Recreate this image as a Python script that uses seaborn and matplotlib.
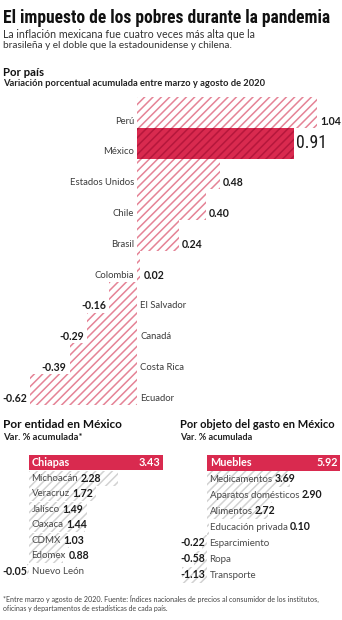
import matplotlib
matplotlib.use("Agg")
import matplotlib.pyplot as plt
import seaborn as sns
import pandas as pd

# Variación porcentual acumulada, marzo-agosto 2020
paises = ["Perú", "México", "Estados Unidos", "Chile", "Brasil", "Colombia",
          "El Salvador", "Canadá", "Costa Rica", "Ecuador"]
var_pais = [1.04, 0.91, 0.48, 0.40, 0.24, 0.02, -0.16, -0.29, -0.39, -0.62]

entidades = ["Chiapas", "Michoacán", "Veracruz", "Jalisco", "Oaxaca", "CDMX",
             "Edomex", "Nuevo León"]
var_entidad = [3.43, 2.28, 1.72, 1.49, 1.44, 1.03, 0.88, -0.05]

rubros = ["Muebles", "Medicamentos", "Aparatos domésticos", "Alimentos",
          "Educación privada", "Esparcimiento", "Ropa", "Transporte"]
var_rubro = [5.92, 3.69, 2.90, 2.72, 0.10, -0.22, -0.58, -1.13]

sns.set_theme(style="white")
plt.rcParams["font.family"] = ["Lato", "DejaVu Sans"]
plt.rcParams["hatch.linewidth"] = 1.1

W, H = 342, 620
fig = plt.figure(figsize=(W / 100, H / 100), dpi=100, facecolor="white")

ROJO = "#d92a4f"
ROJO_OSCURO = "#b5173c"
ROSA = "#e58396"
GRIS_HATCH = "#d2d2d2"
TXT = "#3c3c3c"
NEGRO = "#1c1c1c"
NARROW = ["Roboto Condensed", "Liberation Sans Narrow", "DejaVu Sans"]


def ax_px(x0, y0, x1, y1):
    """Axes placed by pixel box (top-left origin)."""
    a = fig.add_axes([x0 / W, 1 - y1 / H, (x1 - x0) / W, (y1 - y0) / H])
    a.set_facecolor("none")
    return a


def fig_text(x, y, s, **kw):
    kw.setdefault("va", "center")
    kw.setdefault("ha", "left")
    return fig.text(x / W, 1 - y / H, s, **kw)


PT = 0.72  # points per pixel at 100 dpi
fits = []  # (text, target width in px)

# ---------------- Por país ----------------
ax = ax_px(0, 97, W, 405)
df_pais = pd.DataFrame({"pais": paises, "var": var_pais})
sns.barplot(data=df_pais, x="var", y="pais", orient="h", width=1.0,
            color="white", ax=ax)
for i, bar in enumerate(ax.patches):
    bar.set_hatch("////")
    bar.set_linewidth(0)
    if paises[i] == "México":
        bar.set_facecolor(ROJO)
        bar.set_edgecolor(ROJO_OSCURO)
    else:
        bar.set_facecolor("white")
        bar.set_edgecolor(ROSA)
ax.set_xlim(-137 / 173, (W - 137) / 173)
ax.set_ylim(len(paises) - 0.5, -0.5)
ax.axis("off")

for i, (p, v) in enumerate(zip(paises, var_pais)):
    yl = i + 0.28
    if p == "México":
        big = ax.annotate(f"{v:.2f}", xy=(v, i), xytext=(2 * PT, 0),
                          textcoords="offset points", ha="left", va="center",
                          fontsize=16, family=NARROW, fontstretch="condensed",
                          color=NEGRO)
        fits.append((big, 31))
        ax.annotate(p, xy=(0, yl), xytext=(-3 * PT, 0),
                    textcoords="offset points", ha="right", va="center",
                    fontsize=6.8, color=TXT)
    elif v >= 0:
        ax.annotate(p, xy=(0, yl), xytext=(-3 * PT, 0),
                    textcoords="offset points", ha="right", va="center",
                    fontsize=6.8, color=TXT)
        ax.annotate(f"{v:.2f}", xy=(v, yl), xytext=(3 * PT, 0),
                    textcoords="offset points", ha="left", va="center",
                    fontsize=7.6, fontweight="bold", color=NEGRO)
    else:
        ax.annotate(p, xy=(0, yl), xytext=(3 * PT, 0),
                    textcoords="offset points", ha="left", va="center",
                    fontsize=6.8, color=TXT)
        ax.annotate(f"{v:.2f}", xy=(v, yl), xytext=(-3 * PT, 0),
                    textcoords="offset points", ha="right", va="center",
                    fontsize=7.6, fontweight="bold", color=NEGRO)


# ---------------- paneles inferiores ----------------
def panel(box, zero_px, px_per_unit, cats, vals):
    x0, y0, x1, y1 = box
    a = ax_px(*box)
    d = pd.DataFrame({"cat": cats, "var": vals})
    sns.barplot(data=d, x="var", y="cat", orient="h", width=0.97,
                color="white", ax=a)
    for i, bar in enumerate(a.patches):
        bar.set_linewidth(0)
        if i == 0:
            bar.set_facecolor(ROJO)
            bar.set_edgecolor(ROJO)
        else:
            bar.set_facecolor("white")
            bar.set_edgecolor(GRIS_HATCH)
            bar.set_hatch("////")
    a.set_xlim((x0 - zero_px) / px_per_unit, (x1 - zero_px) / px_per_unit)
    a.set_ylim(len(cats) - 0.5, -0.5)
    a.axis("off")
    for i, (c, v) in enumerate(zip(cats, vals)):
        if i == 0:
            a.annotate(c, xy=(0, i), xytext=(3 * PT, 0),
                       textcoords="offset points", ha="left", va="center",
                       fontsize=7.8, color="white", fontweight="bold")
            a.annotate(f"{v:.2f}", xy=(v, i), xytext=(-2 * PT, 0),
                       textcoords="offset points", ha="right", va="center",
                       fontsize=7.8, color="white", fontweight="bold")
            continue
        name = a.annotate(c, xy=(0, i), xytext=(2.5 * PT, 0),
                          textcoords="offset points", ha="left", va="center",
                          fontsize=7.0, color="#4a4a4a")
        if v >= 0:
            a.annotate(f"{v:.2f}", xy=(1, i), xycoords=(name, "data"),
                       xytext=(2.5 * PT, 0), textcoords="offset points",
                       ha="left", va="center", fontsize=7.6,
                       fontweight="bold", color=NEGRO)
        else:
            a.annotate(f"{v:.2f}", xy=(0, i), xytext=(-2 * PT, 0),
                       textcoords="offset points", ha="right", va="center",
                       fontsize=7.6, fontweight="bold", color=NEGRO)
    return a


panel((0, 455, 172, 579), 29, 39, entidades, var_entidad)
panel((172, 455, W, 583), 207, 22.5, rubros, var_rubro)

# ---------------- textos ----------------
fits.append((fig_text(3, 18, "El impuesto de los pobres durante la pandemia",
                      fontsize=20, fontweight="bold", family=NARROW,
                      fontstretch="condensed", color="#111111"), 327))
fits.append((fig_text(3, 34, "La inflación mexicana fue cuatro veces más alta que la",
                      fontsize=8, color="#333333"), 251))
fits.append((fig_text(3, 46, "brasileña y el doble que la estadounidense y chilena.",
                      fontsize=8, color="#333333"), 232))
fits.append((fig_text(3, 72, "Por país", fontsize=8, fontweight="bold",
                      color="#111111"), 41))
fits.append((fig_text(3, 83, "Variación porcentual acumulada entre marzo y agosto de 2020",
                      fontsize=6, fontweight="bold", color="#222222"), 262))
fits.append((fig_text(3, 425, "Por entidad en México", fontsize=8,
                      fontweight="bold", color="#111111"), 118))
fits.append((fig_text(3, 438, "Var. % acumulada*", fontsize=6,
                      fontweight="bold", color="#222222"), 79))
fits.append((fig_text(180, 425, "Por objeto del gasto en México", fontsize=8,
                      fontweight="bold", color="#111111"), 155))
fits.append((fig_text(180, 438, "Var. % acumulada", fontsize=6,
                      fontweight="bold", color="#222222"), 72))
fits.append((fig_text(3, 599, "*Entre marzo y agosto de 2020. Fuente: Índices nacionales "
                      "de precios al consumidor de los institutos,",
                      fontsize=5, color="#444444"), 315))
fits.append((fig_text(3, 608, "oficinas y departamentos de estadísticas de cada país.",
                      fontsize=5, color="#444444"), 165))

# scale each text to its target width
for _ in range(2):
    fig.canvas.draw()
    r = fig.canvas.get_renderer()
    for t, target in fits:
        w = t.get_window_extent(renderer=r).width
        t.set_fontsize(t.get_fontsize() * target / w)

fig.savefig("out.png", dpi=100, facecolor="white")
